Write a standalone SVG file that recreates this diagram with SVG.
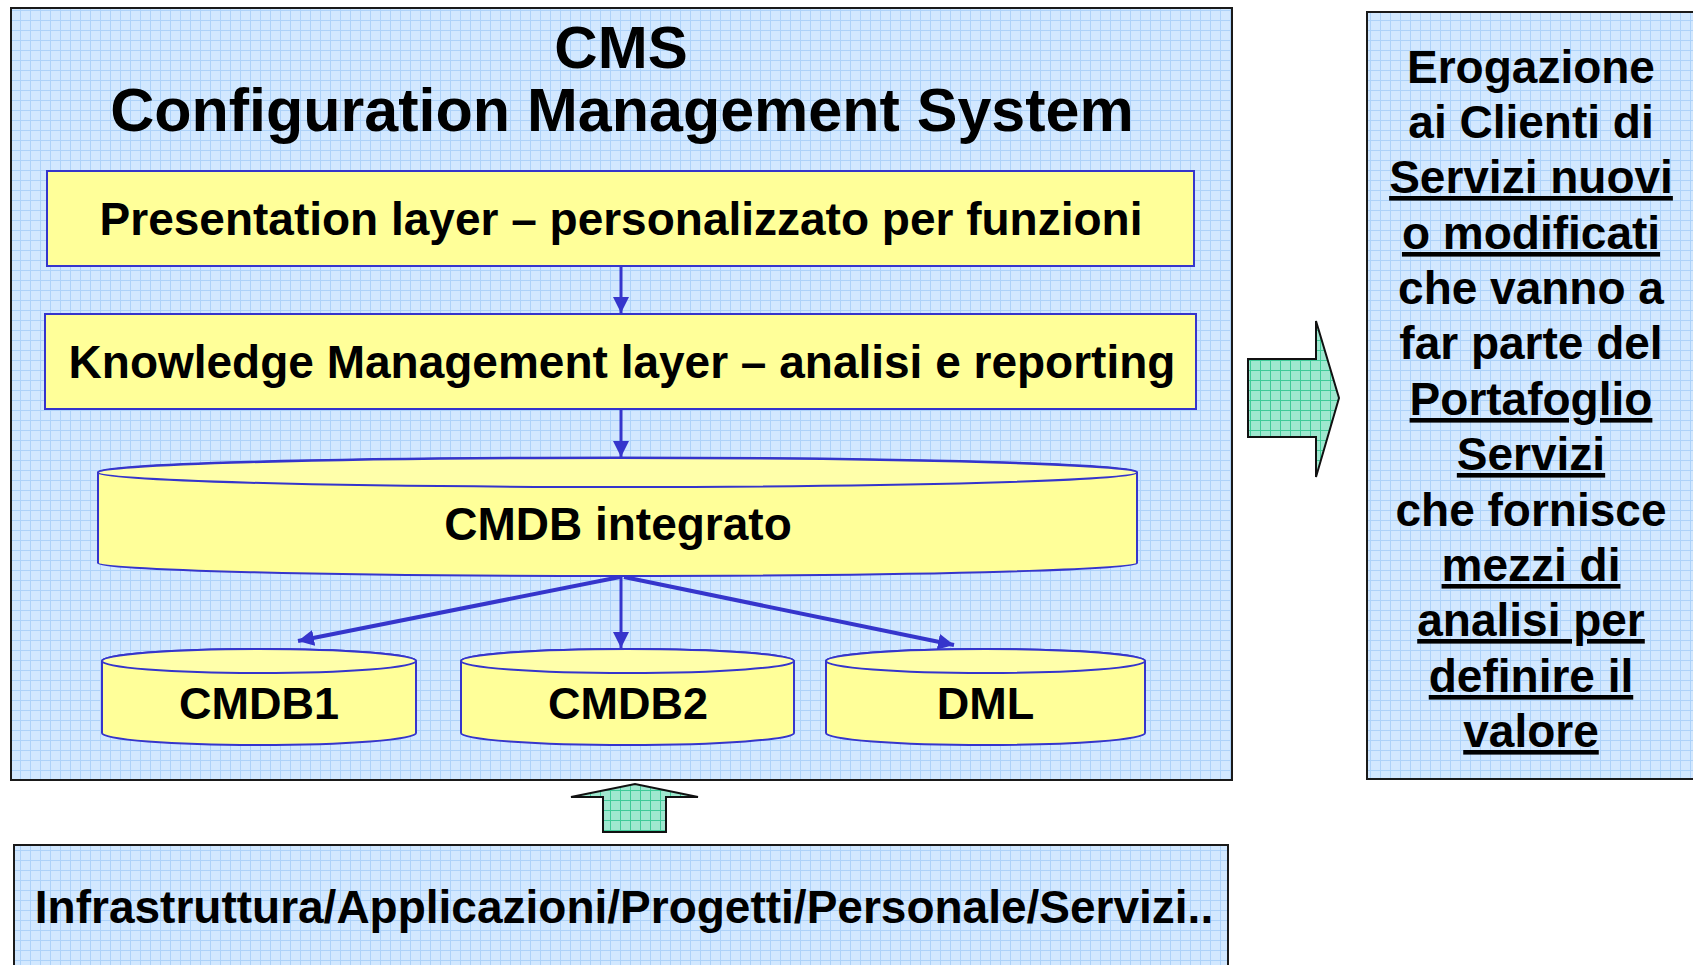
<svg xmlns="http://www.w3.org/2000/svg" width="1693" height="965" viewBox="0 0 1693 965">
<defs>
<pattern id="gridBlue" width="10" height="10" patternUnits="userSpaceOnUse">
<rect width="10" height="10" fill="#d2e8ff"/>
<path d="M0,0.5 H10 M0.5,0 V10" stroke="#add2f9" stroke-width="1" fill="none"/>
</pattern>
<pattern id="gridGreen" width="10" height="10" patternUnits="userSpaceOnUse">
<rect width="10" height="10" fill="#9fe8cf"/>
<path d="M0,0.5 H10 M0.5,0 V10" stroke="#3fca98" stroke-width="1" fill="none"/>
</pattern>
<marker id="ah" viewBox="0 0 16 16" refX="16" refY="8" markerWidth="16" markerHeight="16" markerUnits="userSpaceOnUse" orient="auto">
<path d="M0,0 L16,8 L0,16 Z" fill="#3535cc"/>
</marker>
</defs>
<style>
.panel{fill:url(#gridBlue);stroke:#1a1a1a;stroke-width:2}
.layer{fill:#ffff99;stroke:#3535cc;stroke-width:2}
.cylbody{fill:#ffff99;stroke:#3535cc;stroke-width:2}
.cyltop{fill:#ffffaa;stroke:#3535cc;stroke-width:2}
.big{fill:url(#gridGreen);stroke:#111;stroke-width:2;stroke-linejoin:miter}
.conn{stroke:#3535cc;fill:none;marker-end:url(#ah)}
.t{font-family:"Liberation Sans",Arial,Helvetica,sans-serif;font-weight:bold;fill:#000;text-anchor:middle}
.u{text-decoration:underline;text-decoration-thickness:4px;text-underline-offset:6px;text-decoration-skip-ink:none}
</style>

<g id="cms">
<rect class="panel" x="11" y="8" width="1221" height="772"/>
<text class="t" x="621" y="68" font-size="60">CMS</text>
<text class="t" x="622" y="131" font-size="61">Configuration Management System</text>
</g>

<g id="presentation">
<rect class="layer" x="47" y="171" width="1147" height="95"/>
<text class="t" x="621" y="235" font-size="46">Presentation layer – personalizzato per funzioni</text>
</g>

<g id="knowledge">
<rect class="layer" x="45" y="314" width="1151" height="95"/>
<text class="t" x="622" y="378" font-size="46">Knowledge Management layer – analisi e reporting</text>
</g>

<g id="cmdb-integrato">
<path class="cylbody" d="M98,472 V563 A519.5,13 0 0 0 1137,563 V472 A519.5,14.5 0 0 0 98,472 Z"/>
<ellipse class="cyltop" cx="617.5" cy="472.5" rx="519.5" ry="14.5"/>
<text class="t" x="618" y="540" font-size="46">CMDB integrato</text>
</g>

<g id="cmdb1">
<path class="cylbody" d="M102,661 V733 A157,12 0 0 0 416,733 V661 A157,12 0 0 0 102,661 Z"/>
<ellipse class="cyltop" cx="259" cy="661" rx="157" ry="12"/>
<text class="t" x="259" y="719" font-size="45">CMDB1</text>
</g>

<g id="cmdb2">
<path class="cylbody" d="M461,661 V733 A166.5,12 0 0 0 794,733 V661 A166.5,12 0 0 0 461,661 Z"/>
<ellipse class="cyltop" cx="627.5" cy="661" rx="166.5" ry="12"/>
<text class="t" x="628" y="719" font-size="45">CMDB2</text>
</g>

<g id="dml">
<path class="cylbody" d="M826,661 V733 A159.5,12 0 0 0 1145,733 V661 A159.5,12 0 0 0 826,661 Z"/>
<ellipse class="cyltop" cx="985.5" cy="661" rx="159.5" ry="12"/>
<text class="t" x="985.5" y="719" font-size="45">DML</text>
</g>

<g id="erogazione">
<rect class="panel" x="1367" y="12" width="330" height="767"/>
<text class="t" x="1531" y="83" font-size="46">Erogazione</text>
<text class="t" x="1531" y="138" font-size="46">ai Clienti di</text>
<text class="t u" x="1531" y="193" font-size="46">Servizi nuovi</text>
<text class="t u" x="1531" y="249" font-size="46">o modificati</text>
<text class="t" x="1531" y="304" font-size="46">che vanno a</text>
<text class="t" x="1531" y="359" font-size="46">far parte del</text>
<text class="t u" x="1531" y="415" font-size="46">Portafoglio</text>
<text class="t u" x="1531" y="470" font-size="46">Servizi</text>
<text class="t" x="1531" y="526" font-size="46">che fornisce</text>
<text class="t u" x="1531" y="581" font-size="46">mezzi di</text>
<text class="t u" x="1531" y="636" font-size="46">analisi per</text>
<text class="t u" x="1531" y="692" font-size="46">definire il</text>
<text class="t u" x="1531" y="747" font-size="46">valore</text>
</g>

<g id="infrastruttura">
<rect class="panel" x="14" y="845" width="1214" height="130"/>
<text class="t" x="624" y="923" font-size="46">Infrastruttura/Applicazioni/Progetti/Personale/Servizi..</text>
</g>

<g id="connectors">
<line class="conn" x1="621" y1="266" x2="621" y2="313" stroke-width="3"/>
<line class="conn" x1="621" y1="409" x2="621" y2="457" stroke-width="3"/>
<line class="conn" x1="620" y1="577" x2="298" y2="641" stroke-width="4"/>
<line class="conn" x1="621" y1="577" x2="621" y2="648" stroke-width="3"/>
<line class="conn" x1="624" y1="577" x2="954" y2="645" stroke-width="4"/>
<path class="big" d="M1248,359 H1316 V321 L1339,398 L1316,477 V437 H1248 Z"/>
<path class="big" d="M603,832 V797 H571 L635,784 L698,797 H666 V832 Z"/>
</g>
</svg>
